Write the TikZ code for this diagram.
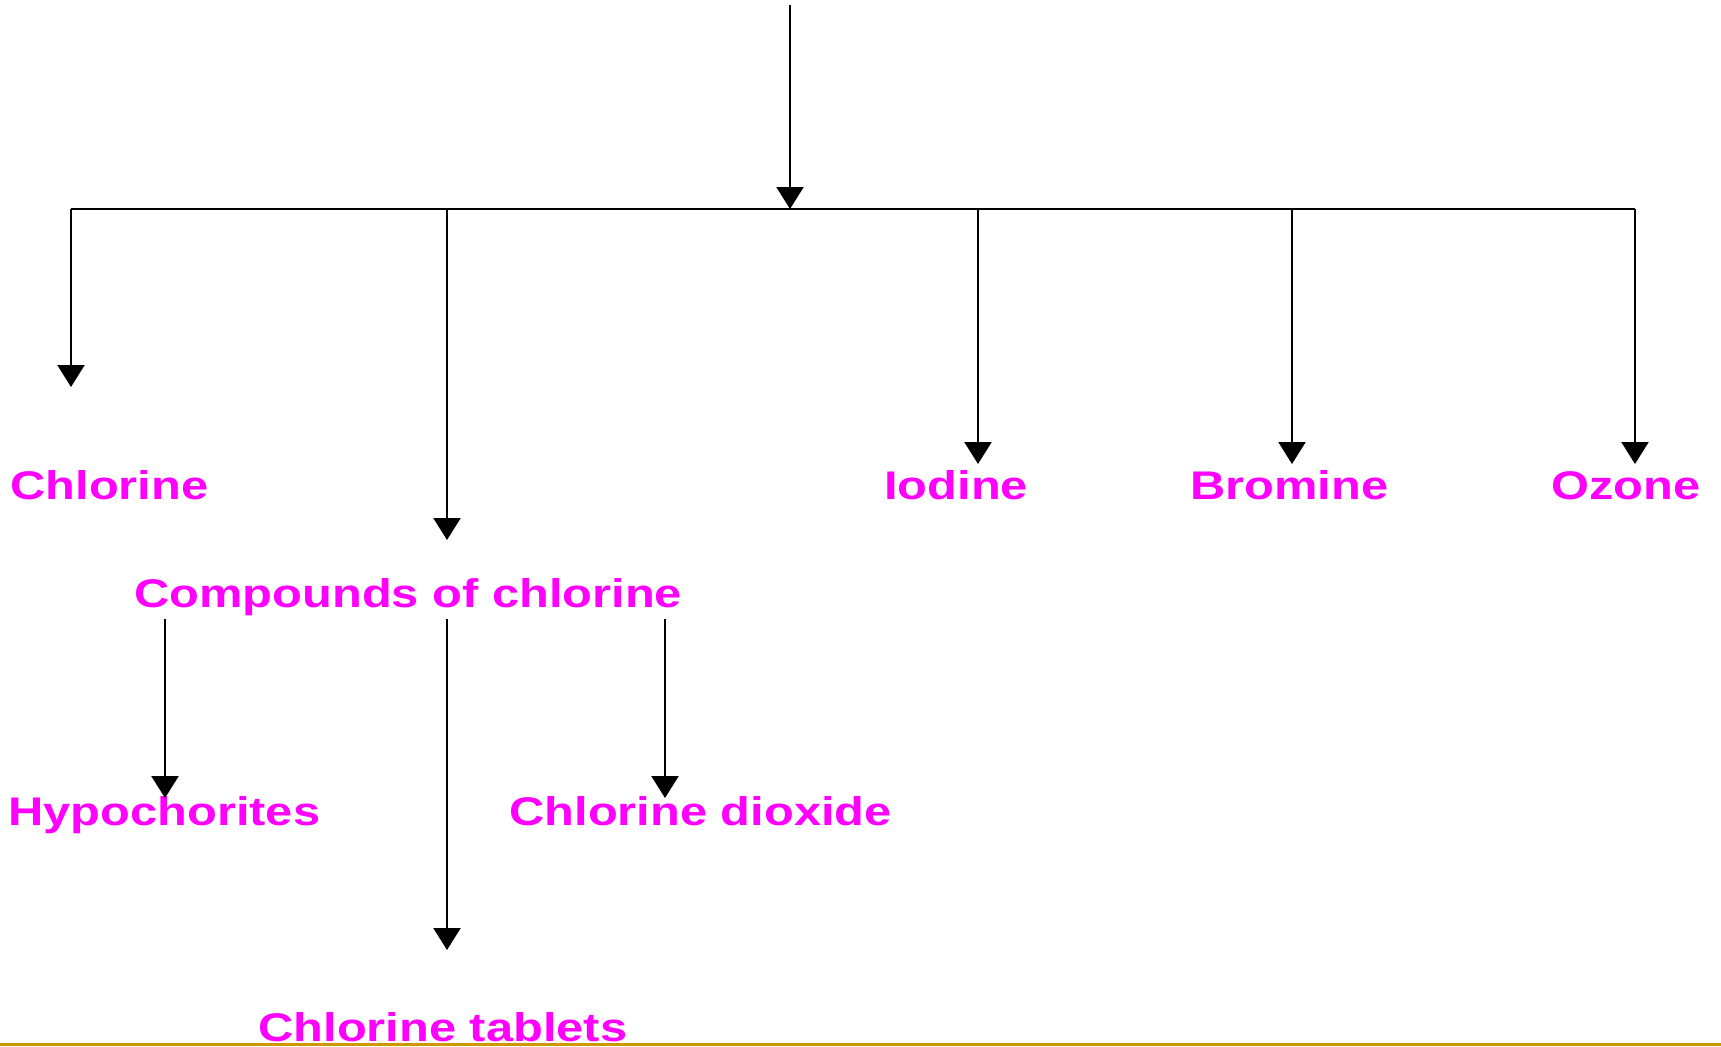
\documentclass[tikz,border=0pt]{standalone}
\usepackage{fontspec}
\setmainfont{Liberation Sans}
\newfontfamily\lblfont[FakeStretch=1.22]{Liberation Sans}
\usetikzlibrary{arrows.meta}
\definecolor{lblpink}{RGB}{255,0,255}
\definecolor{rulegold}{RGB}{204,153,0}

\begin{document}
\begin{tikzpicture}[x=0.5pt,y=-0.5pt,
  lbl/.style={anchor=base west,inner sep=0pt,text=lblpink,font=\lblfont\bfseries\fontsize{20pt}{24pt}\selectfont},
  link/.style={line width=1.15pt,-{Triangle[width=13.5pt,length=11pt]}},
  bus/.style={line width=1.15pt}]
  \useasboundingbox (0,0) rectangle (1721,1046);
  % feed line and bus
  \coordinate (src) at (790,5);
  \coordinate (hub) at (790,209);
  \coordinate (busL) at (71,209);
  \coordinate (busR) at (1635,209);
  \draw[link] (src) -- (hub);
  \draw[bus] (busL) -- (busR);
  % first level
  \node[lbl] (chlorine) at (10,499) {Chlorine};
  \node[lbl] (compounds) at (134,607) {Compounds of chlorine};
  \node[lbl] (iodine) at (884,499) {Iodine};
  \node[lbl] (bromine) at (1190,499) {Bromine};
  \node[lbl] (ozone) at (1551,499) {Ozone};
  \coordinate (tipChl) at (71,387);
  \coordinate (tipCmp) at (447,540);
  \coordinate (tipIod) at (978,464);
  \coordinate (tipBro) at (1292,464);
  \coordinate (tipOzo) at (1635,464);
  \draw[link] (busL) -- (tipChl);
  \draw[link] (busL -| tipCmp) -- (tipCmp);
  \draw[link] (busL -| tipIod) -- (tipIod);
  \draw[link] (busL -| tipBro) -- (tipBro);
  \draw[link] (busR) -- (tipOzo);
  % second level
  \node[lbl] (hypo) at (8,825) {Hypochorites};
  \node[lbl] (dioxide) at (509,825) {Chlorine dioxide};
  \node[lbl] (tablets) at (258,1041) {Chlorine tablets};
  \coordinate (subHyp) at (165,619);
  \coordinate (subTab) at (447,619);
  \coordinate (subDio) at (665,619);
  \coordinate (tipHyp) at (165,798);
  \coordinate (tipTab) at (447,950);
  \coordinate (tipDio) at (665,798);
  \draw[link] (subHyp) -- (tipHyp);
  \draw[link] (subTab) -- (tipTab);
  \draw[link] (subDio) -- (tipDio);
  % bottom rule
  \draw[rulegold,line width=1.5pt] (0,1044.5) -- (1721,1044.5);
\end{tikzpicture}
\end{document}
